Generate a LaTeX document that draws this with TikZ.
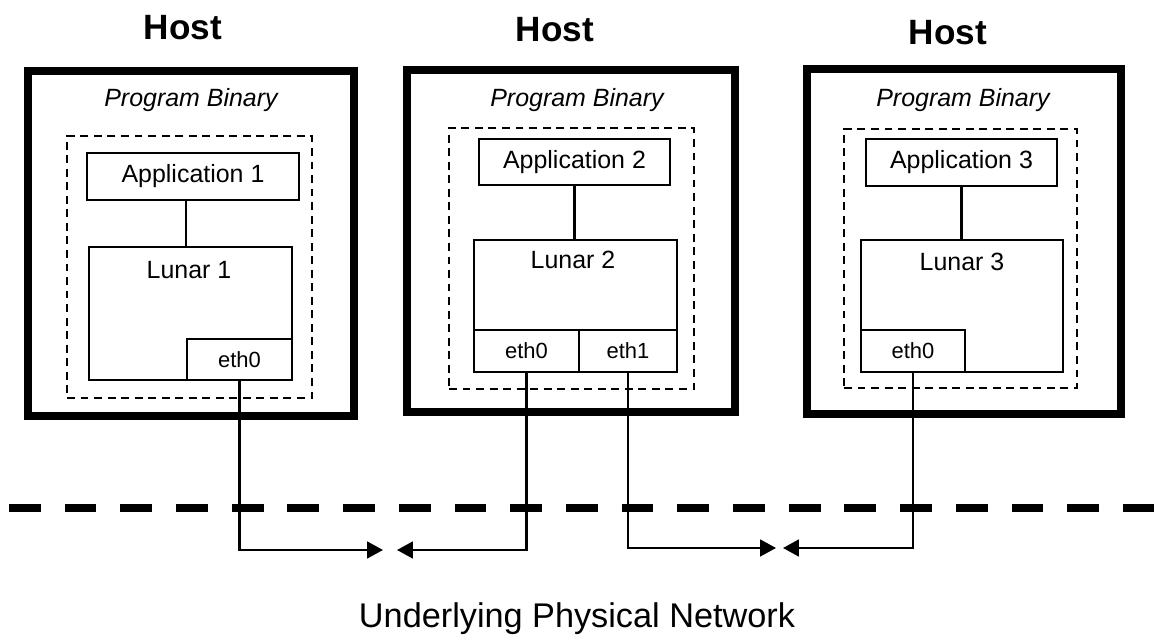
\documentclass[tikz,border=0pt]{standalone}
\usepackage{fontspec}
\setmainfont{Liberation Sans}
\usetikzlibrary{arrows.meta,positioning}

\begin{document}
\begin{tikzpicture}[x=0.02cm,y=-0.02cm,
hostbox/.style={draw,line width=4.7pt,inner sep=0pt},
hostlbl/.style={inner sep=0pt,font=\fontsize{20}{24}\selectfont\bfseries},
binlbl/.style={inner sep=0pt,font=\fontsize{14.2}{17}\selectfont\itshape},
dashbox/.style={draw,line width=1.3pt,dash pattern=on 4.5pt off 3.2pt,inner sep=0pt},
box/.style={draw,line width=1.3pt,inner sep=0pt,font=\fontsize{14.2}{17}\selectfont},
ethbox/.style={draw,line width=1.3pt,inner sep=0pt,minimum height=0.83cm,font=\fontsize{12.5}{15}\selectfont},
txt/.style={inner sep=0pt,font=\fontsize{14.2}{17}\selectfont},
link/.style={line width=1.3pt},
arr/.style={line width=1.3pt,-{Triangle[length=9pt,width=9.5pt]}},
net/.style={line width=5.1pt,dash pattern=on 18.1pt off 13.6pt}]
\useasboundingbox (0,0) rectangle (1154,641);

% network
\draw[net] (9,508) -- (1154,508);
\node[inner sep=0pt,font=\fontsize{19.5}{23}\selectfont] (netlbl) at (577,619) {Underlying Physical Network};

% host 1
\node[hostlbl] (host1lbl) at (183,28) {Host};
\node[hostbox,minimum width=6.52cm,minimum height=6.90cm] (host1) at (191,243.5) {};
\node[binlbl] (prog1) at (191,100) {Program Binary};
\node[dashbox,minimum width=4.90cm,minimum height=5.24cm] (bin1) at (189.5,267) {};
\node[box,minimum width=4.24cm,minimum height=0.94cm] (app1) at (193,176.5) {Application 1};
\node[box,minimum width=4.06cm,minimum height=2.66cm] (lunar1) at (190.5,313.5) {};
\node[txt] (lunar1lbl) at (189,270) {Lunar 1};
\node[ethbox,minimum width=2.10cm] (eth1) at (239.5,359.5) {eth0};
\draw[link] ([xshift=-0.14cm]app1.south) -- ([xshift=-0.14cm]app1.south |- lunar1.north);

% host 2
\node[hostlbl] (host2lbl) at (555,30) {Host};
\node[hostbox,minimum width=6.56cm,minimum height=6.84cm] (host2) at (571,241) {};
\node[binlbl] (prog2) at (577,100) {Program Binary};
\node[dashbox,minimum width=4.90cm,minimum height=5.22cm] (bin2) at (571.5,258.5) {};
\node[box,minimum width=3.82cm,minimum height=0.92cm] (app2) at (574.5,162) {Application 2};
\node[box,minimum width=4.06cm,minimum height=2.64cm] (lunar2) at (575.5,306) {};
\node[txt] (lunar2lbl) at (573,260) {Lunar 2};
\node[ethbox,minimum width=2.10cm] (eth2a) at (526.5,351) {eth0};
\node[ethbox,minimum width=1.96cm] (eth2b) at (628,351) {eth1};
\draw[link] (app2.south) -- (app2.south |- lunar2.north);

% host 3
\node[hostlbl] (host3lbl) at (948,33) {Host};
\node[hostbox,minimum width=6.28cm,minimum height=6.90cm] (host3) at (964,241.5) {};
\node[binlbl] (prog3) at (963,100) {Program Binary};
\node[dashbox,minimum width=4.66cm,minimum height=5.18cm] (bin3) at (960.5,258.5) {};
\node[box,minimum width=3.82cm,minimum height=0.94cm] (app3) at (961.5,162.5) {Application 3};
\node[box,minimum width=4.04cm,minimum height=2.64cm] (lunar3) at (962,306) {};
\node[txt] (lunar3lbl) at (962,262) {Lunar 3};
\node[ethbox,minimum width=2.08cm] (eth3) at (913,351) {eth0};
\draw[link] (app3.south) -- (app3.south |- lunar3.north);

% links to the network
\coordinate (meet1l) at (383,550);
\coordinate (meet1r) at (397,550);
\coordinate (meet2l) at (776,548);
\coordinate (meet2r) at (783,548);
\draw[arr] (eth1.south) |- (meet1l);
\draw[arr] (eth2a.south) |- (meet1r);
\draw[arr] (eth2b.south) |- (meet2l);
\draw[arr] (eth3.south) |- (meet2r);
\end{tikzpicture}
\end{document}
